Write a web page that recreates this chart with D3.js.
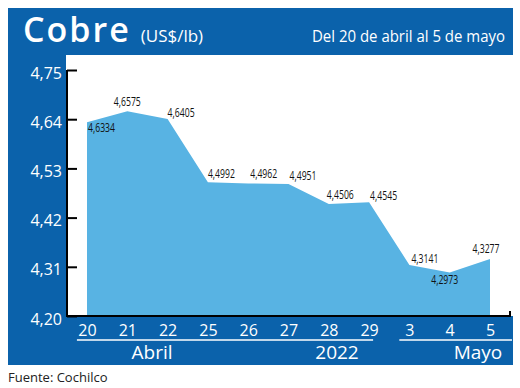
<!DOCTYPE html>
<html>
<head>
<meta charset="utf-8">
<script src="https://cdn.jsdelivr.net/npm/d3@7"></script>
<style>
  html, body { margin: 0; padding: 0; background: #fff; }
  svg { display: block; }
  text { font-family: "Open Sans", "Noto Sans", sans-serif; }
</style>
</head>
<body>
<svg id="chart" width="520" height="388"></svg>
<script>
// ---- data ----
const days = ["20", "21", "22", "25", "26", "27", "28", "29", "3", "4", "5"];
const prices = [4.6334, 4.6575, 4.6405, 4.4992, 4.4962, 4.4951, 4.4506, 4.4545, 4.3141, 4.2973, 4.3277];
const priceLabels = ["4,6334", "4,6575", "4,6405", "4,4992", "4,4962", "4,4951", "4,4506", "4,4545", "4,3141", "4,2973", "4,3277"];
const yTicks = [4.20, 4.31, 4.42, 4.53, 4.64, 4.75];
const yTickLabels = ["4,20", "4,31", "4,42", "4,53", "4,64", "4,75"];
const title = "Cobre";
const unit = "(US$/lb)";
const subtitle = "Del 20 de abril al 5 de mayo";
const groups = ["Abril", "2022", "Mayo"];
const source = "Fuente: Cochilco";

// ---- layout / style (not data) ----
const DARK = "#0b62ab";
const LIGHT = "#58b3e3";
// label placement relative to each point: [dx, dy, anchor]
const labelPlace = [[1, 10, "start"], [0, -5, "middle"], [0, -2, "start"], [0, -4, "start"], [2, -6, "start"],
  [1, -4, "start"], [-2, -5, "start"], [1, -2, "start"], [2, -2, "start"], [-5, 12, "middle"], [-4, -6, "middle"]];
// group name centre x positions (in px) and underline spans (by category)
const groupX = [152, 337, 478];
const lines = [{ from: "20", to: "29" }, { from: "3", to: "5" }];

const svg = d3.select("#chart");

// background frame
svg.append("rect").attr("x", 8).attr("y", 8).attr("width", 505).attr("height", 357).attr("fill", DARK);
svg.append("rect").attr("x", 66).attr("y", 55).attr("width", 454).attr("height", 261).attr("fill", "#fff");

// scales
const x = d3.scalePoint().domain(days).range([87, 490]);
const y = d3.scaleLinear().domain([4.20, 4.75]).range([316, 70]);

// area
const area = d3.area()
  .x((d, i) => x(days[i]))
  .y0(y(4.20))
  .y1(d => y(d));
svg.append("path").datum(prices).attr("d", area).attr("fill", LIGHT);

// axis lines
svg.append("path")
  .attr("d", `M67,${y(4.75)}V${y(4.20)}H510V${y(4.20) - 5}`)
  .attr("fill", "none").attr("stroke", "#000").attr("stroke-width", 2);

// y axis
const yAxis = svg.append("g").attr("transform", "translate(67,0)")
  .call(d3.axisLeft(y).tickValues(yTicks)
    .tickFormat((d, i) => yTickLabels[i]).tickSize(-10).tickPadding(5));
yAxis.select(".domain").remove();
yAxis.selectAll(".tick line").attr("stroke", "#000").attr("stroke-width", 2);
yAxis.selectAll(".tick text").attr("fill", "#fff").style("font-size", "16px")
  .style("font-family", "'Open Sans', sans-serif").attr("dy", "0.5em");

// x axis
const xAxis = svg.append("g").attr("transform", "translate(0,316)")
  .call(d3.axisBottom(x).tickSize(0).tickPadding(6));
xAxis.select(".domain").remove();
xAxis.selectAll(".tick text").attr("fill", "#fff").style("font-size", "16px")
  .style("font-family", "'Open Sans', sans-serif").attr("dy", "0.85em");

// group underlines and names
const step = x.step();
svg.selectAll(".grp-line").data(lines).enter().append("line")
  .attr("x1", d => x(d.from) - step / 4)
  .attr("x2", d => d.to === "5" ? 512 : x(d.to) + 4)
  .attr("y1", 340).attr("y2", 340)
  .attr("stroke", "#fff").attr("stroke-width", 1.5);
svg.selectAll(".grp-name").data(groups).enter().append("text")
  .attr("x", (d, i) => groupX[i])
  .attr("y", 359)
  .attr("text-anchor", "middle")
  .attr("fill", "#fff").style("font-size", "19px")
  .text(d => d);

// data labels
svg.selectAll(".lbl").data(prices).enter().append("text")
  .attr("x", (d, i) => x(days[i]) + labelPlace[i][0])
  .attr("y", (d, i) => y(d) + labelPlace[i][1])
  .attr("text-anchor", (d, i) => labelPlace[i][2])
  .attr("fill", "#111").style("font-size", "13.5px").style("font-weight", 500)
  .attr("textLength", 27).attr("lengthAdjust", "spacingAndGlyphs")
  .text((d, i) => priceLabels[i]);

// title
const t = svg.append("text").attr("x", 23).attr("y", 42).attr("fill", "#fff");
t.append("tspan").style("font-size", "34px").style("font-weight", 600).style("letter-spacing", "2px").text(title);
t.append("tspan").attr("dx", 10).style("font-size", "17px").text(unit);

svg.append("text").attr("x", 505).attr("y", 42).attr("text-anchor", "end")
  .attr("fill", "#fff").style("font-size", "16px")
  .attr("textLength", 193).attr("lengthAdjust", "spacingAndGlyphs")
  .text(subtitle);

// source
svg.append("text").attr("x", 8).attr("y", 382).attr("fill", "#222")
  .style("font-size", "13px").text(source);
</script>
</body>
</html>
